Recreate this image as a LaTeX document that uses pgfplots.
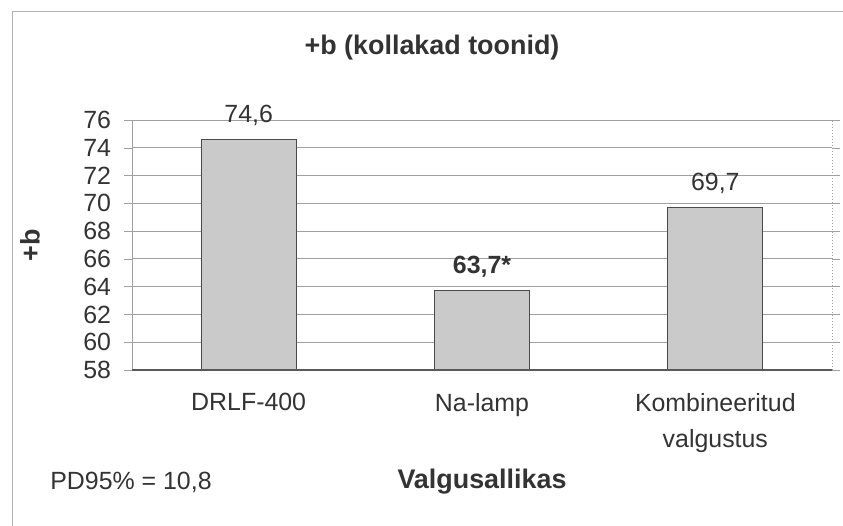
\documentclass[border=0pt]{standalone}
\usepackage{fontspec}
\setmainfont{Liberation Sans}
\usepackage{pgfplots}
\pgfplotsset{compat=1.18}
\definecolor{barFill}{HTML}{CACACA}
\definecolor{barEdge}{HTML}{4A4A4A}
\definecolor{gridGray}{HTML}{A0A0A0}

\begin{document}
\begin{tikzpicture}
\useasboundingbox (0,0) rectangle (421.5bp,263bp);
% outer chart frame
\draw[gray!60,line width=0.5pt] (6bp,0) -- (6bp,257bp) -- (421.5bp,257bp);
\begin{axis}[
  at={(66bp,78bp)}, anchor=south west,
  scale only axis, width=350bp, height=125bp,
  ymin=58, ymax=76, ytick={58,60,...,76},
  xmin=-0.5, xmax=2.5,
  xtick={0,1,2},
  xticklabels={DRLF-400,Na-lamp,{Kombineeritud\\valgustus}},
  major x tick style={draw=none},
  extra x ticks={-0.5,0.5,1.5,2.5}, extra x tick labels={},
  extra x tick style={grid=none, tick style={draw=gridGray}},
  tick align=outside, major tick length=4bp,
  ytick style={draw=gridGray},
  ymajorgrids, grid style={gridGray, line width=0.5pt},
  axis line style={draw=none},
  /pgf/number format/assume math mode=true,
  tick label style={font=\fontsize{12.5}{14}\selectfont, text=black!80},
  xticklabel style={align=center, font=\fontsize{12.5}{18.5}\selectfont, yshift=-4bp},
  yticklabel style={xshift=-3bp},
  clip=false,
  nodes near coords, point meta=explicit symbolic,
  every node near coord/.append style={font=\fontsize{12.5}{14}\selectfont, text=black!80, anchor=base, inner sep=0pt, yshift=8.5bp},
]
\addplot[ybar, bar width=47.5bp, fill=barFill, draw=barEdge, line width=0.6pt]
  coordinates {(0,74.6) [{74,6}] (1,63.7) [{\textbf{63,7*}}] (2,69.7) [{69,7}]};
\draw[gridGray, line width=0.5pt] (rel axis cs:0,0) -- (rel axis cs:0,1);
\draw[gridGray, densely dotted, line width=0.5pt] (rel axis cs:1,0) -- (rel axis cs:1,1);
\draw[black!65, line width=0.6pt] (rel axis cs:0,0) -- (rel axis cs:1,0);
\end{axis}
\node[font=\bfseries\fontsize{13.5}{15}\selectfont, text=black!80] at (216bp,239bp) {+b (kollakad toonid)};
\node[font=\bfseries\fontsize{13.5}{15}\selectfont, text=black!80, rotate=90] at (15bp,140.5bp) {+b};
\node[font=\bfseries\fontsize{13.5}{15}\selectfont, text=black!80] at (241bp,22bp) {Valgusallikas};
\node[font=\fontsize{12.5}{14}\selectfont, text=black!80] at (65.5bp,22bp) {PD95\% = 10,8};
\end{tikzpicture}
\end{document}
